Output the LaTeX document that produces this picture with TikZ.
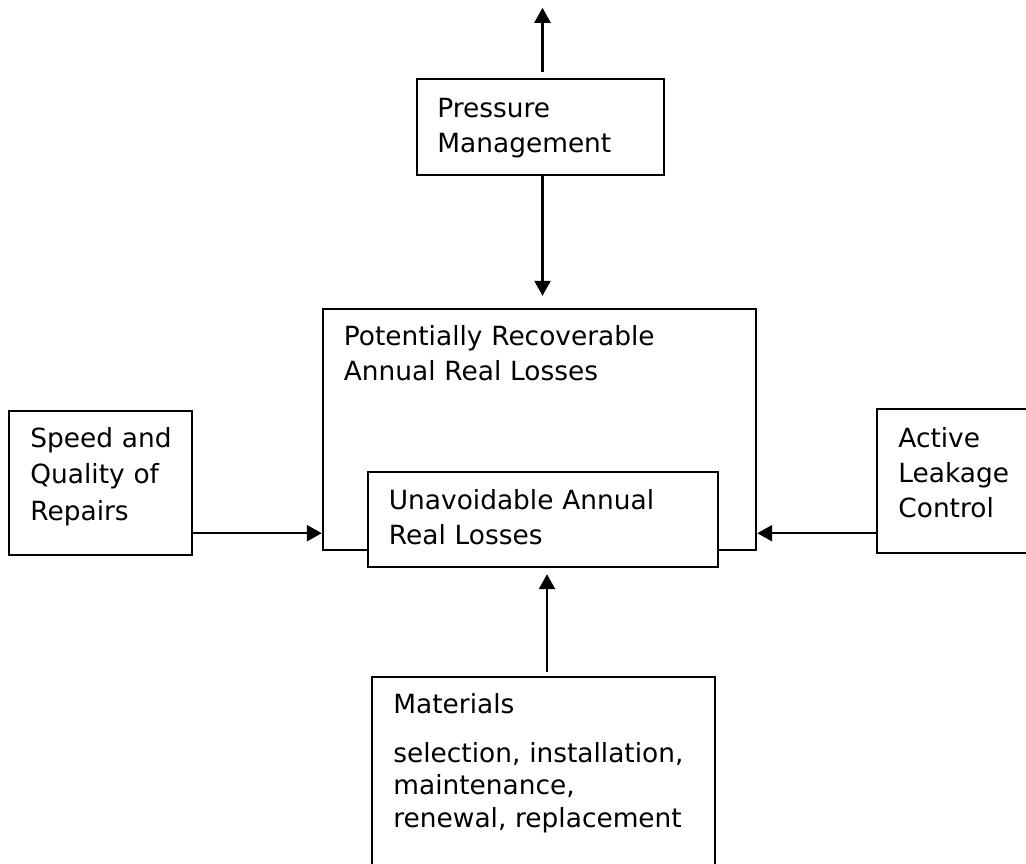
\documentclass[tikz,border=0pt]{standalone}
\usepackage{fontspec}
\setmainfont{DejaVu Sans}
\usetikzlibrary{arrows.meta,fit}

\begin{document}
\begin{tikzpicture}[x=0.5pt,y=-0.5pt]
\tikzstyle{box}=[rectangle,draw,line width=1.2pt,inner sep=0pt,fill=white]
\tikzstyle{txt}=[anchor=base west,inner sep=0pt,align=left,text width=190pt,font=\fontsize{13.2}{17.5}\selectfont]
\tikzstyle{tip}=[-{Triangle[length=7.5pt,width=8pt]},line width=1.2pt]
\path[use as bounding box,clip] (0,0) rectangle (1026,863);
% boxes
\node (pm) [box, fit={(417,79) (664,175)}] {};
\node (prl) [box, fit={(323,309) (756,550)}] {};
\node (ual) [box, fit={(368,472) (718,567)}] {};
\node (sqr) [box, fit={(9,411) (192,555)}] {};
\node (alc) [box, fit={(877,409) (1045,553)}] {};
\node (mat) [box, fit={(372,677) (715,880)}] {};
% texts
\node (pmlbl) [txt] at (437,117) {Pressure\\Management};
\node (prllbl) [txt] at (343.5,345) {Potentially Recoverable\\Annual Real Losses};
\node (uallbl) [txt] at (388.5,509) {Unavoidable Annual\\Real Losses};
\node (sqrlbl) [txt, font=\fontsize{13.2}{18.25}\selectfont] at (30,447) {Speed and\\Quality of\\Repairs};
\node (alclbl) [txt] at (898,447.5) {Active\\Leakage\\Control};
\node (matlbl) [txt, font=\fontsize{13.2}{16.25}\selectfont] at (393,713) {Materials\\[8.25pt]selection, installation,\\maintenance,\\renewal, replacement};
% arrows
\coordinate (pmup) at ([xshift=1pt,yshift=35pt]pm.north);
\coordinate (pmdn) at ([xshift=1pt]pm.south);
\coordinate (matup) at ([xshift=1.75pt]mat.north);
\coordinate (lin) at ([yshift=9pt]prl.south west);
\coordinate (rin) at ([yshift=9pt]prl.south east);
\draw[tip, shorten <=3pt] (pmdn |- pm.north) -- (pmup);
\draw[tip, shorten >=6pt] (pmdn) -- (pmdn |- prl.north);
\draw[tip] (sqr.east |- lin) -- (lin);
\draw[tip] (alc.west |- rin) -- (rin);
\draw[tip, shorten <=2pt, shorten >=3pt] (matup) -- (matup |- ual.south);
\end{tikzpicture}
\end{document}
